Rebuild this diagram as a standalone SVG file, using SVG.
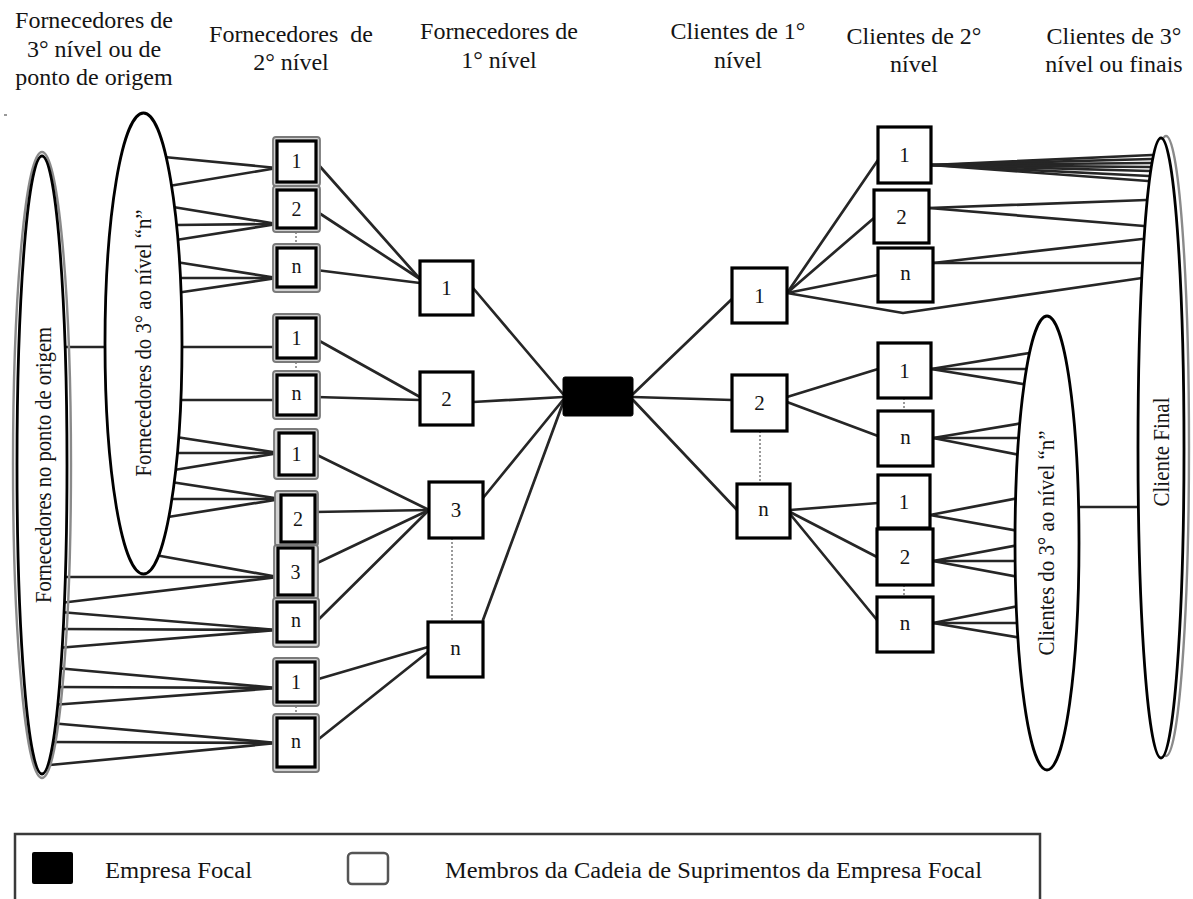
<svg xmlns="http://www.w3.org/2000/svg" width="1193" height="899" viewBox="0 0 1193 899">
  <style>
    .lnk { stroke: #262626; stroke-width: 2.7; fill: none; stroke-linecap: round; stroke-linejoin: round; }
    .dot { stroke: #9a9a9a; stroke-width: 2; stroke-dasharray: 2 2; fill: none; }
    .box { fill: #fff; stroke: #000; stroke-width: 3.2; }
    .halo { fill: #d2d2d2; stroke: #7a7a7a; stroke-width: 1.8; }
    .ell { fill: #fff; stroke: #000; stroke-width: 2.8; }
    .ellhalo { fill: none; stroke: #8a8a8a; stroke-width: 2.4; }
    .focal { fill: #000; stroke: #000; stroke-width: 1; }
    text { font-family: "Liberation Serif", "Times New Roman", serif; fill: #141414; }
    .hdr { font-size: 24px; text-anchor: middle; }
    .lbl { font-size: 20px; text-anchor: middle; }
    .lbl2 { font-size: 21px; text-anchor: middle; }
    .rot { font-size: 23px; text-anchor: middle; }
    .leg { font-size: 24px; }
  </style>

  <!-- column headings -->
  <g id="headings">
    <text class="hdr" x="94" y="28">Fornecedores de</text>
    <text class="hdr" x="94" y="57">3° nível ou de</text>
    <text class="hdr" x="94" y="85">ponto de origem</text>
    <text class="hdr" x="291" y="42" xml:space="preserve">Fornecedores  de</text>
    <text class="hdr" x="291" y="70">2° nível</text>
    <text class="hdr" x="499" y="39">Fornecedores de</text>
    <text class="hdr" x="499" y="68">1° nível</text>
    <text class="hdr" x="738" y="39">Clientes de 1°</text>
    <text class="hdr" x="738" y="68">nível</text>
    <text class="hdr" x="914" y="44">Clientes de 2°</text>
    <text class="hdr" x="914" y="72">nível</text>
    <text class="hdr" x="1114" y="44">Clientes de 3°</text>
    <text class="hdr" x="1114" y="72">nível ou finais</text>
    <line x1="4" y1="115" x2="7" y2="115" stroke="#777" stroke-width="1.5"/>
  </g>

  <!-- connectors (drawn beneath the nodes) -->
  <g id="connectors">
    <!-- origin suppliers to 3rd..n level suppliers -->
    <line class="lnk" x1="62" y1="347" x2="108" y2="347"/>
    <!-- 3rd..n level fans into 2nd level boxes -->
    <line class="lnk" x1="164" y1="157" x2="277" y2="168"/>
    <line class="lnk" x1="169" y1="186" x2="277" y2="168"/>
    <line class="lnk" x1="173" y1="207" x2="277" y2="224"/>
    <line class="lnk" x1="176" y1="225" x2="277" y2="224"/>
    <line class="lnk" x1="176" y1="240" x2="277" y2="224"/>
    <line class="lnk" x1="176" y1="262" x2="277" y2="278"/>
    <line class="lnk" x1="178" y1="278" x2="277" y2="278"/>
    <line class="lnk" x1="176" y1="293" x2="277" y2="278"/>
    <line class="lnk" x1="178" y1="347" x2="277" y2="347"/>
    <line class="lnk" x1="178" y1="400" x2="277" y2="400"/>
    <line class="lnk" x1="176" y1="437" x2="279" y2="453"/>
    <line class="lnk" x1="177" y1="453" x2="279" y2="453"/>
    <line class="lnk" x1="174" y1="470" x2="279" y2="453"/>
    <line class="lnk" x1="171" y1="482" x2="281" y2="499"/>
    <line class="lnk" x1="172" y1="499" x2="281" y2="499"/>
    <line class="lnk" x1="168" y1="517" x2="281" y2="499"/>
    <line class="lnk" x1="155" y1="555" x2="278" y2="577"/>
    <!-- origin suppliers fans into 2nd level boxes -->
    <line class="lnk" x1="62" y1="577" x2="278" y2="577"/>
    <line class="lnk" x1="60" y1="603" x2="278" y2="577"/>
    <line class="lnk" x1="60" y1="612" x2="277" y2="630"/>
    <line class="lnk" x1="59" y1="629" x2="277" y2="630"/>
    <line class="lnk" x1="57" y1="648" x2="277" y2="630"/>
    <line class="lnk" x1="56" y1="668" x2="277" y2="688"/>
    <line class="lnk" x1="54" y1="687" x2="277" y2="688"/>
    <line class="lnk" x1="52" y1="705" x2="277" y2="688"/>
    <line class="lnk" x1="50" y1="723" x2="277" y2="743"/>
    <line class="lnk" x1="48" y1="742" x2="277" y2="743"/>
    <line class="lnk" x1="50" y1="765" x2="277" y2="743"/>
    <!-- 2nd level to 1st level suppliers -->
    <line class="lnk" x1="316" y1="162" x2="420" y2="279"/>
    <line class="lnk" x1="316" y1="211" x2="420" y2="279"/>
    <line class="lnk" x1="316" y1="270" x2="420" y2="283"/>
    <line class="lnk" x1="316" y1="339" x2="420" y2="397"/>
    <line class="lnk" x1="316" y1="397" x2="420" y2="400"/>
    <line class="lnk" x1="313" y1="453" x2="429" y2="510"/>
    <line class="lnk" x1="314" y1="512" x2="429" y2="510"/>
    <line class="lnk" x1="313" y1="565" x2="429" y2="510"/>
    <line class="lnk" x1="315" y1="623" x2="429" y2="510"/>
    <line class="lnk" x1="315" y1="680" x2="428" y2="647"/>
    <line class="lnk" x1="315" y1="742" x2="428" y2="652"/>
    <!-- 1st level suppliers to focal company -->
    <line class="lnk" x1="473" y1="288" x2="563" y2="394"/>
    <line class="lnk" x1="473" y1="402" x2="563" y2="397"/>
    <line class="lnk" x1="483" y1="498" x2="563" y2="400"/>
    <line class="lnk" x1="483" y1="620" x2="563" y2="403"/>
    <!-- focal company to 1st level customers -->
    <line class="lnk" x1="633" y1="394" x2="733" y2="298"/>
    <line class="lnk" x1="633" y1="397" x2="732" y2="400"/>
    <line class="lnk" x1="633" y1="400" x2="737" y2="510"/>
    <!-- 1st level to 2nd level customers -->
    <line class="lnk" x1="787" y1="293" x2="878" y2="160"/>
    <line class="lnk" x1="787" y1="293" x2="874" y2="218"/>
    <line class="lnk" x1="787" y1="293" x2="878" y2="275"/>
    <polyline class="lnk" points="787,293 903,313 1142,278"/>
    <line class="lnk" x1="787" y1="397" x2="878" y2="369"/>
    <line class="lnk" x1="787" y1="402" x2="878" y2="436"/>
    <line class="lnk" x1="790" y1="510" x2="878" y2="503"/>
    <line class="lnk" x1="790" y1="512" x2="877" y2="557"/>
    <line class="lnk" x1="790" y1="514" x2="877" y2="620"/>
    <!-- 2nd level customers to final customer -->
    <line class="lnk" x1="931" y1="165" x2="1152" y2="155"/>
    <line class="lnk" x1="931" y1="165" x2="1152" y2="159"/>
    <line class="lnk" x1="931" y1="165" x2="1151" y2="163"/>
    <line class="lnk" x1="931" y1="165" x2="1150" y2="167"/>
    <line class="lnk" x1="931" y1="165" x2="1150" y2="171"/>
    <line class="lnk" x1="931" y1="165" x2="1149" y2="176"/>
    <line class="lnk" x1="931" y1="165" x2="1148" y2="181"/>
    <line class="lnk" x1="929" y1="208" x2="1146" y2="200"/>
    <line class="lnk" x1="929" y1="208" x2="1144" y2="226"/>
    <line class="lnk" x1="933" y1="263" x2="1142" y2="239"/>
    <line class="lnk" x1="933" y1="263" x2="1142" y2="263"/>
    <!-- 2nd level customers to 3rd..n level customers -->
    <line class="lnk" x1="931" y1="369" x2="1036" y2="352"/>
    <line class="lnk" x1="931" y1="369" x2="1032" y2="369"/>
    <line class="lnk" x1="931" y1="369" x2="1029" y2="385"/>
    <line class="lnk" x1="933" y1="438" x2="1023" y2="423"/>
    <line class="lnk" x1="933" y1="438" x2="1021" y2="438"/>
    <line class="lnk" x1="933" y1="438" x2="1020" y2="455"/>
    <line class="lnk" x1="930" y1="515" x2="1019" y2="498"/>
    <line class="lnk" x1="930" y1="515" x2="1019" y2="531"/>
    <line class="lnk" x1="933" y1="561" x2="1019" y2="545"/>
    <line class="lnk" x1="933" y1="561" x2="1019" y2="561"/>
    <line class="lnk" x1="933" y1="561" x2="1019" y2="577"/>
    <line class="lnk" x1="933" y1="623" x2="1019" y2="606"/>
    <line class="lnk" x1="933" y1="623" x2="1020" y2="623"/>
    <line class="lnk" x1="933" y1="623" x2="1021" y2="638"/>
    <!-- 3rd..n level customers to final customer -->
    <line class="lnk" x1="1075" y1="507" x2="1142" y2="507"/>
    <!-- dotted continuation marks -->
    <line class="dot" x1="296" y1="228" x2="296" y2="248"/>
    <line class="dot" x1="296" y1="358" x2="296" y2="375"/>
    <line class="dot" x1="296" y1="702" x2="296" y2="718"/>
    <line class="dot" x1="452" y1="538" x2="452" y2="622"/>
    <line class="dot" x1="760" y1="431" x2="760" y2="484"/>
    <line class="dot" x1="904" y1="398" x2="904" y2="411"/>
    <line class="dot" x1="904" y1="585" x2="904" y2="597"/>
  </g>

  <!-- origin suppliers -->
  <g id="sup-origem">
    <ellipse class="ellhalo" cx="42" cy="465" rx="29" ry="313"/>
    <ellipse class="ell" cx="42" cy="465" rx="25" ry="309"/>
    <text class="rot" transform="translate(51,465) rotate(-90)" textLength="276" lengthAdjust="spacingAndGlyphs">Fornecedores no ponto de origem</text>
  </g>

  <!-- 3rd to n level suppliers -->
  <g id="sup-n">
    <ellipse class="ell" cx="143.5" cy="343.5" rx="38.5" ry="230.5"/>
    <text class="rot" transform="translate(151,343) rotate(-90)" textLength="267" lengthAdjust="spacingAndGlyphs">Fornecedores do 3° ao nível “n”</text>
  </g>

  <!-- 2nd level suppliers -->
  <g id="s2-a1"><rect class="halo" x="273" y="137" width="47" height="49" rx="3"/><rect class="box" x="277" y="141" width="39" height="41"/><text class="lbl" x="296.5" y="168">1</text></g>
  <g id="s2-a2"><rect class="halo" x="273" y="186" width="47" height="46" rx="3"/><rect class="box" x="277" y="190" width="39" height="38"/><text class="lbl" x="296.5" y="216">2</text></g>
  <g id="s2-an"><rect class="halo" x="273" y="244" width="47" height="48" rx="3"/><rect class="box" x="277" y="248" width="39" height="39"/><text class="lbl" x="296.5" y="273">n</text></g>
  <g id="s2-b1"><rect class="halo" x="273" y="314" width="47" height="48" rx="3"/><rect class="box" x="277" y="318" width="39" height="40"/><text class="lbl" x="296.5" y="345">1</text></g>
  <g id="s2-bn"><rect class="halo" x="273" y="371" width="47" height="48" rx="3"/><rect class="box" x="277" y="375" width="39" height="40"/><text class="lbl" x="296.5" y="400">n</text></g>
  <g id="s2-c1"><rect class="halo" x="274" y="429" width="44" height="50" rx="3"/><rect class="box" x="279" y="433" width="35" height="42"/><text class="lbl" x="296.5" y="461">1</text></g>
  <g id="s2-c2"><rect class="halo" x="275" y="491" width="43" height="55" rx="3"/><rect class="box" x="281" y="495" width="34" height="47"/><text class="lbl" x="298" y="526">2</text></g>
  <g id="s2-c3"><rect class="halo" x="274" y="545" width="44" height="54" rx="3"/><rect class="box" x="278" y="548" width="35" height="47"/><text class="lbl" x="295.5" y="579">3</text></g>
  <g id="s2-cn"><rect class="halo" x="273" y="598" width="46" height="49" rx="3"/><rect class="box" x="277" y="602" width="38" height="40"/><text class="lbl" x="296" y="627">n</text></g>
  <g id="s2-d1"><rect class="halo" x="273" y="658" width="46" height="48" rx="3"/><rect class="box" x="277" y="662" width="38" height="40"/><text class="lbl" x="296" y="689">1</text></g>
  <g id="s2-dn"><rect class="halo" x="273" y="714" width="46" height="58" rx="3"/><rect class="box" x="277" y="718" width="38" height="49"/><text class="lbl" x="296" y="748">n</text></g>

  <!-- 1st level suppliers -->
  <g id="s1-1"><rect class="box" x="420" y="261" width="53" height="54"/><text class="lbl2" x="446.5" y="295">1</text></g>
  <g id="s1-2"><rect class="box" x="420" y="372" width="53" height="53"/><text class="lbl2" x="446.5" y="406">2</text></g>
  <g id="s1-3"><rect class="box" x="429" y="482" width="54" height="56"/><text class="lbl2" x="456" y="517">3</text></g>
  <g id="s1-n"><rect class="box" x="428" y="622" width="55" height="55"/><text class="lbl2" x="455.5" y="655">n</text></g>

  <!-- focal company -->
  <g id="focal"><rect class="focal" x="563" y="377" width="70" height="39" rx="2"/></g>

  <!-- 1st level customers -->
  <g id="c1-1"><rect class="box" x="732" y="268" width="55" height="55"/><text class="lbl2" x="759.5" y="303">1</text></g>
  <g id="c1-2"><rect class="box" x="732" y="375" width="55" height="56"/><text class="lbl2" x="759.5" y="410">2</text></g>
  <g id="c1-n"><rect class="box" x="737" y="484" width="53" height="54"/><text class="lbl2" x="763.5" y="516">n</text></g>

  <!-- 2nd level customers -->
  <g id="c2-a1"><rect class="box" x="878" y="127" width="53" height="56"/><text class="lbl2" x="904.5" y="162">1</text></g>
  <g id="c2-a2"><rect class="box" x="874" y="190" width="55" height="53"/><text class="lbl2" x="901.5" y="224">2</text></g>
  <g id="c2-an"><rect class="box" x="878" y="248" width="55" height="54"/><text class="lbl2" x="905.5" y="280">n</text></g>
  <g id="c2-b1"><rect class="box" x="878" y="343" width="53" height="55"/><text class="lbl2" x="904.5" y="378">1</text></g>
  <g id="c2-bn"><rect class="box" x="878" y="411" width="55" height="55"/><text class="lbl2" x="905.5" y="444">n</text></g>
  <g id="c2-c1"><rect class="box" x="878" y="475" width="52" height="53"/><text class="lbl2" x="904" y="509">1</text></g>
  <g id="c2-c2"><rect class="box" x="877" y="529" width="56" height="56"/><text class="lbl2" x="905" y="564">2</text></g>
  <g id="c2-cn"><rect class="box" x="877" y="597" width="56" height="55"/><text class="lbl2" x="905" y="630">n</text></g>

  <!-- 3rd to n level customers -->
  <g id="cli-n">
    <ellipse class="ell" cx="1047" cy="543" rx="32" ry="227"/>
    <text class="rot" transform="translate(1054,543) rotate(-90)" textLength="225" lengthAdjust="spacingAndGlyphs">Clientes do 3° ao nível “n”</text>
  </g>

  <!-- final customer -->
  <g id="cli-final">
    <ellipse class="ellhalo" cx="1166" cy="446" rx="23" ry="310"/>
    <ellipse class="ell" cx="1161" cy="448" rx="23" ry="310"/>
    <text class="rot" transform="translate(1169,452) rotate(-90)" textLength="109" lengthAdjust="spacingAndGlyphs">Cliente Final</text>
  </g>

  <!-- legend -->
  <g id="legend">
    <rect x="15" y="834" width="1025" height="80" fill="none" stroke="#3a3a3a" stroke-width="2.5"/>
    <rect x="32" y="852" width="41" height="32" rx="2" fill="#000"/>
    <text class="leg" x="105" y="878" textLength="147" lengthAdjust="spacingAndGlyphs">Empresa Focal</text>
    <rect x="348" y="853" width="40" height="31" rx="4" fill="#fff" stroke="#555" stroke-width="2.5"/>
    <text class="leg" x="445" y="878" textLength="537" lengthAdjust="spacingAndGlyphs">Membros da Cadeia de Suprimentos da Empresa Focal</text>
  </g>
</svg>
